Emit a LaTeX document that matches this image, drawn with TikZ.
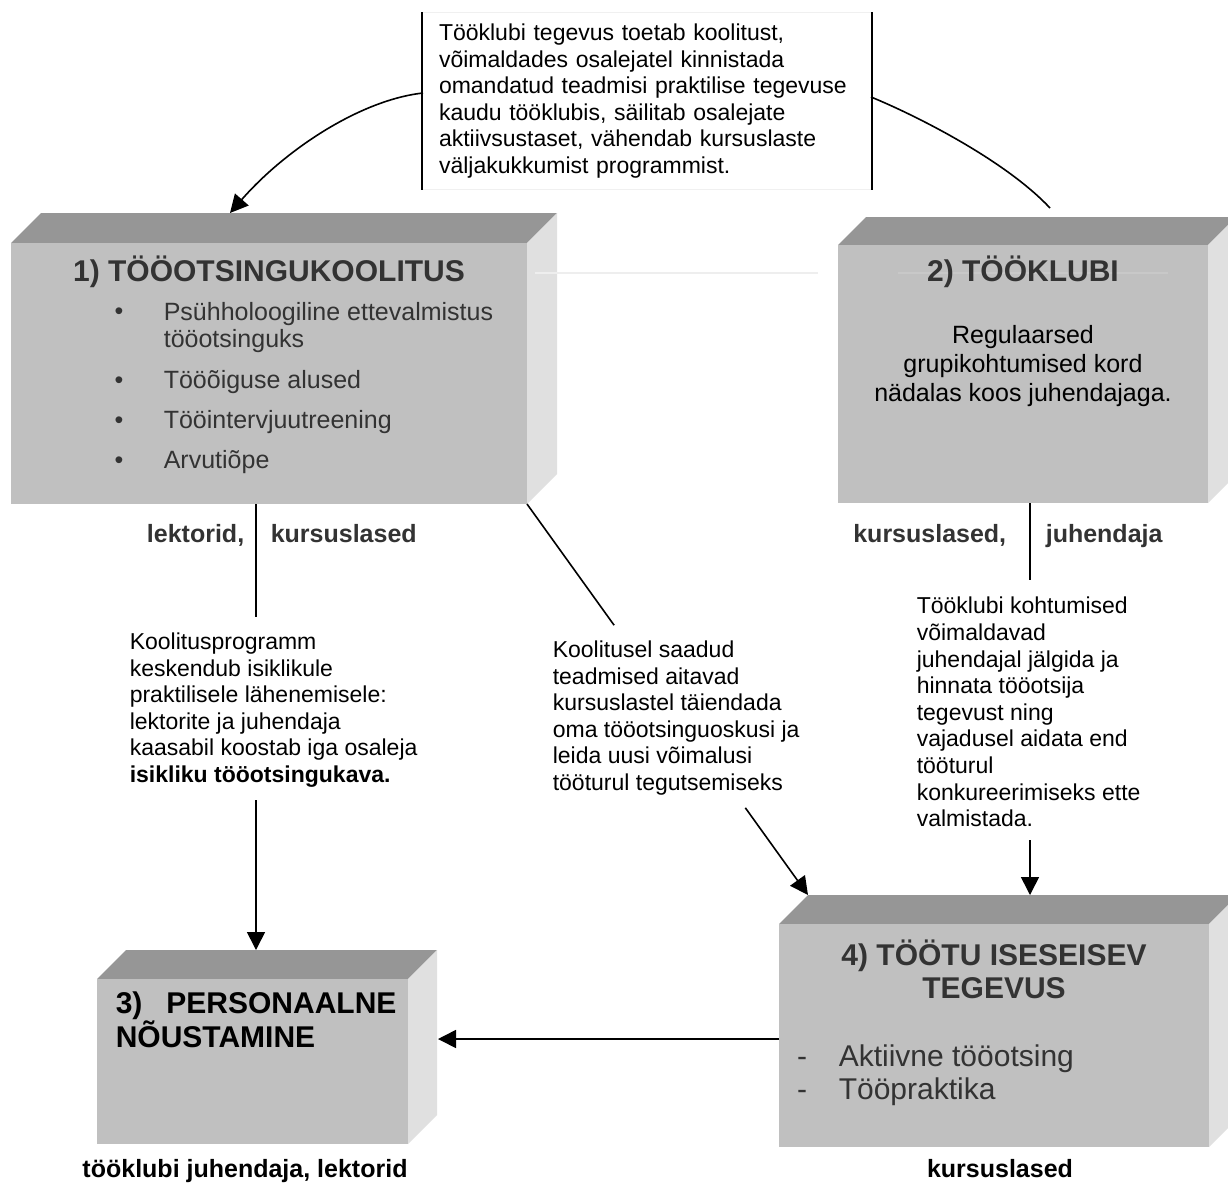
\documentclass[tikz,border=0pt]{standalone}
\usepackage{fontspec}
\setmainfont{Liberation Sans}
\usetikzlibrary{arrows.meta}
\definecolor{frontc}{RGB}{192,192,192}
\definecolor{topc}{RGB}{150,150,150}
\definecolor{sidec}{RGB}{224,224,224}
\definecolor{dgray}{RGB}{51,51,51}
\definecolor{faintc}{RGB}{238,238,238}
\definecolor{faintd}{RGB}{200,200,200}
\newcommand\cubebox[6]{%
  \fill[topc] (#2,#3) -- (#2+#6,#3-#6) -- (#4+#6,#3-#6) -- (#4,#3) -- cycle;
  \fill[sidec] (#4,#3) -- (#4+#6,#3-#6) -- (#4+#6,#5-#6) -- (#4,#5) -- cycle;
  \node[fill=frontc, inner sep=0pt, outer sep=0pt, anchor=north west,
        minimum width={(#4-#2)*0.5pt}, minimum height={(#5-#3)*0.5pt}] (#1) at (#2,#3) {};
  \coordinate (#1-tb) at (#2+#6,#3-#6);
}
\begin{document}
\begin{tikzpicture}[x=0.5pt,y=-0.5pt, line width=0.8pt,
  arr/.style={-{Triangle[length=9pt,width=9pt]}},
  lbl/.style={font=\fontsize{12.5}{15}\selectfont\bfseries, text=dgray, inner sep=0pt},
  body/.style={font=\fontsize{11.5}{13.3}\selectfont, align=left, inner sep=0pt},
  ttl/.style={font=\fontsize{15}{16.5}\selectfont\bfseries, text=dgray, inner sep=0pt},
  item/.style={font=\fontsize{12.5}{14}\selectfont, text=dgray, inner sep=0pt, anchor=west, text height=0.72em, text depth=0.2em},
  itemb/.style={font=\fontsize{15}{16.5}\selectfont, text=dgray, inner sep=0pt, anchor=west, text height=0.72em, text depth=0.2em},
]
\fill[white] (0,0) rectangle (1228,1185);
\useasboundingbox (0,0) rectangle (1228,1185);

% boxes
\cubebox{b1}{11}{243}{527}{504}{30}
\cubebox{b2}{838}{245}{1208}{503}{28}
\cubebox{b3}{97}{979}{408}{1144}{29}
\cubebox{b4}{779}{924}{1209}{1147}{29}

% faint lines
\draw[faintc, line width=0.6pt] (535,273) -- (818,273);
\draw[faintd, line width=0.6pt] (898,273) -- (1168,273);

% top note
\node[body, text width=208pt, inner xsep=8pt, inner ysep=0pt, minimum width=224pt, minimum height=88pt] (notebox) at (647,101)
 {Tööklubi tegevus toetab koolitust,\\võimaldades osalejatel kinnistada\\omandatud teadmisi praktilise tegevuse\\kaudu tööklubis, säilitab osalejate\\aktiivsustaset, vähendab kursuslaste\\väljakukkumist programmist.};
\draw[black!6, line width=0.5pt] (notebox.north west) -- (notebox.north east);
\draw[black!6, line width=0.5pt] (notebox.south west) -- (notebox.south east);
\draw (notebox.north west) -- (notebox.south west);
\draw (notebox.north east) -- (notebox.south east);

\coordinate (cLs) at (423,93);
\coordinate (cLe) at (230,213);
\draw[arr] (cLs) .. controls (360,100) and (285,150) .. (cLe);
\coordinate (cRs) at (871,97);
\coordinate (cRe) at (1050,208);
\draw (cRs) .. controls (915,115) and (1005,160) .. (cRe);

% box titles and contents
\node[ttl] (b1t) at (269,272) {1) TÖÖOTSINGUKOOLITUS};
\node[item, anchor=center] (bu1) at (119,314) {\textbullet};
\node[item, anchor=center] (bu2) at (119,383) {\textbullet};
\node[item, anchor=center] (bu3) at (119,423) {\textbullet};
\node[item, anchor=center] (bu4) at (119,463) {\textbullet};
\node[item] (i1) at (163,315) {Psühholoogiline ettevalmistus};
\node[item] (i1b) at (163,342) {tööotsinguks};
\node[item] (i2) at (163,383) {Tööõiguse alused};
\node[item] (i3) at (163,423) {Tööintervjuutreening};
\node[item] (i4) at (163,463) {Arvutiõpe};

\node[ttl] (b2t) at (1023,272) {2) TÖÖKLUBI};
\node[font=\fontsize{12.5}{14.5}\selectfont, align=center, inner sep=0pt] (b2b) at (1023,366)
 {Regulaarsed\\grupikohtumised kord\\nädalas koos juhendajaga.};

\node[ttl, text=black, align=left, anchor=west, font=\fontsize{15}{17}\selectfont\bfseries] (b3t) at (115,1020)
 {3)\hspace{12pt}PERSONAALNE\\NÕUSTAMINE};

\node[ttl, align=center] (b4t) at (994,969) {4) TÖÖTU ISESEISEV\\TEGEVUS};
\node[itemb, anchor=center] (d1) at (802,1061) {-};
\node[itemb, anchor=center] (d2) at (802,1094) {-};
\node[itemb] (j1) at (838,1061) {Aktiivne tööotsing};
\node[itemb] (j2) at (838,1094) {Tööpraktika};

% labels
\node[lbl, anchor=base east] (lab1a) at (245,542) {lektorid,};
\node[lbl, anchor=base west] (lab1b) at (270,542) {kursuslased};
\node[lbl, anchor=base east] (lab2a) at (1007,542) {kursuslased,};
\node[lbl, anchor=base west] (lab2b) at (1045,542) {juhendaja};
\node[lbl, text=black, anchor=base] (lab3) at (245,1177) {tööklubi juhendaja, lektorid};
\node[lbl, text=black, anchor=base] (lab4) at (1000,1177) {kursuslased};

% middle texts
\node[body, anchor=west] (t1) at (129,710)
 {Koolitusprogramm\\keskendub isiklikule\\praktilisele lähenemisele:\\lektorite ja juhendaja\\kaasabil koostab iga osaleja\\\textbf{isikliku tööotsingukava.}};
\node[body, anchor=west] (t2) at (552,718)
 {Koolitusel saadud\\teadmised aitavad\\kursuslastel täiendada\\oma tööotsinguoskusi ja\\leida uusi võimalusi\\tööturul tegutsemiseks};
\node[body, anchor=west] (t3) at (916,712)
 {Tööklubi kohtumised\\võimaldavad\\juhendajal jälgida ja\\hinnata tööotsija\\tegevust ning\\vajadusel aidata end\\tööturul\\konkureerimiseks ette\\valmistada.};

% connectors
\coordinate (l1a) at (256,617);
\draw (b1.south -| l1a) -- (l1a);
\coordinate (l1b) at (256,800);
\draw[arr] (l1b) -- (l1b |- b3-tb);

\path (b1.south east) -- (b4-tb) coordinate[pos=0.31] (m1) coordinate[pos=0.777] (m2);
\draw (b1.south east) -- (m1);
\draw[arr] (m2) -- (b4-tb);

\coordinate (r1a) at (1030,580);
\draw (b2.south -| r1a) -- (r1a);
\coordinate (r1b) at (1030,840);
\draw[arr] (r1b) -- (r1b |- b4-tb);

\coordinate (h1) at (438,1039);
\draw[arr] (b4.west |- h1) -- (h1);
\end{tikzpicture}
\end{document}
